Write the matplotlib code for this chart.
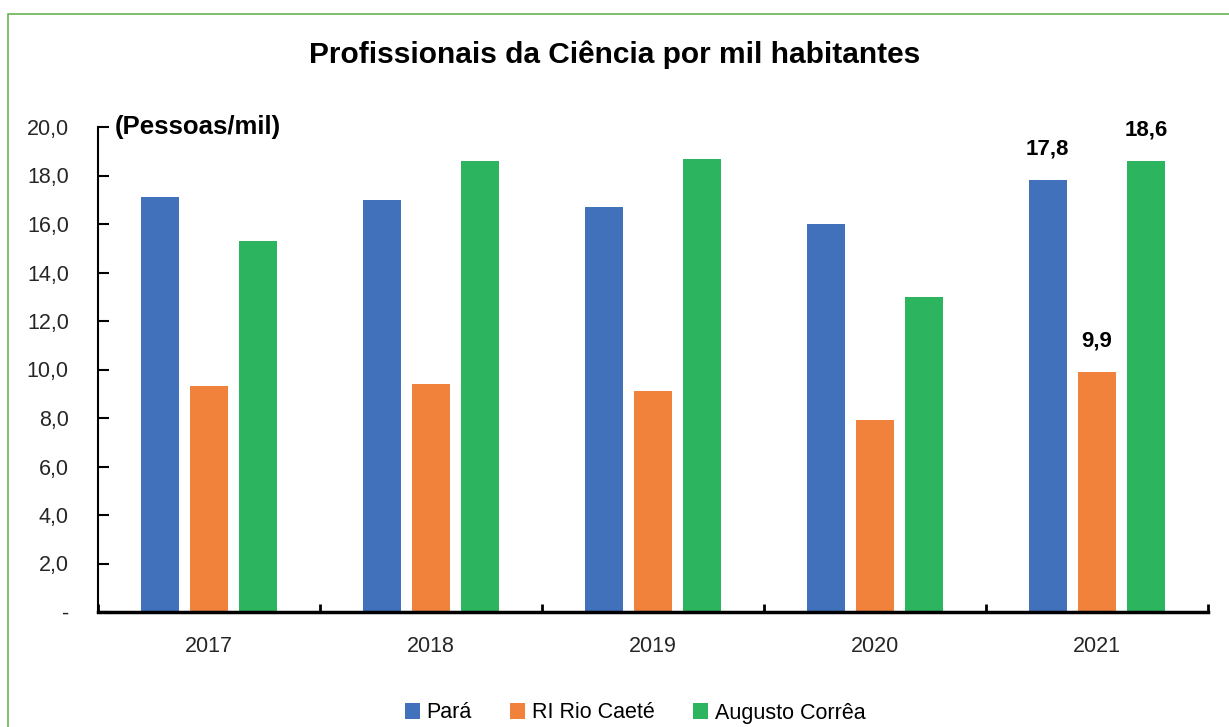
import numpy as np
import matplotlib.pyplot as plt
from matplotlib.patches import Rectangle

anos = ['2017', '2018', '2019', '2020', '2021']
para = [17.1, 17.0, 16.7, 16.0, 17.8]
rio_caete = [9.3, 9.4, 9.1, 7.9, 9.9]
augusto_correa = [15.3, 18.6, 18.7, 13.0, 18.6]

series = ['Pará', 'RI Rio Caeté', 'Augusto Corrêa']
cores = ['#4171BA', '#F0823C', '#2DB45E']

plt.rcParams['font.family'] = ['Liberation Sans Narrow', 'Liberation Sans', 'DejaVu Sans']

fig = plt.figure(figsize=(12.29, 7.27), dpi=100)
ax = fig.add_axes([98 / 1229, 1 - 612 / 727, 1110 / 1229, 485 / 727])

# moldura verde
fig.patches.append(Rectangle((8 / 1229, -0.1), 1.2, (727 - 14) / 727 + 0.1,
                             transform=fig.transFigure, fill=False,
                             edgecolor='#6BB352', linewidth=1.2))

x = np.arange(len(anos))
largura = 0.171
desloc = 0.222
for i, (vals, nome, cor) in enumerate(zip([para, rio_caete, augusto_correa], series, cores)):
    barras = ax.bar(x + (i - 1) * desloc, vals, largura, color=cor, label=nome, zorder=2)
    # rótulos só no último ano
    b = barras[-1]
    ax.text(b.get_x() + b.get_width() / 2, vals[-1] + 0.85, f'{vals[-1]:.1f}'.replace('.', ','),
            ha='center', va='bottom', fontsize=16, fontweight='bold')

ax.set_xlim(-0.5, len(anos) - 0.5)
ax.set_ylim(0, 20)
ax.set_yticks(np.arange(0, 21, 2))
ax.set_yticklabels(['-'] + [f'{v:.1f}'.replace('.', ',') for v in np.arange(2, 21, 2)])
ax.tick_params(axis='y', direction='in', length=8, width=1.5, labelsize=15.5, pad=21,
               labelcolor='#262626')

ax.set_xticks(np.arange(-0.5, len(anos), 1))
ax.set_xticklabels([])
ax.set_xticks(x, minor=True)
ax.set_xticklabels(anos, minor=True, fontsize=15.5, color='#262626')
ax.tick_params(axis='x', which='major', direction='in', length=6, width=2)
ax.tick_params(axis='x', which='minor', length=0, pad=17)

for s in ['top', 'right']:
    ax.spines[s].set_visible(False)
ax.spines['left'].set_linewidth(1.5)
ax.spines['bottom'].set_linewidth(2.5)

ax.text(0.015, 1.0, '(Pessoas/mil)', transform=ax.transAxes, fontsize=18.5,
        fontweight='bold', ha='left', va='center')

fig.text(0.5, 1 - 55 / 727, 'Profissionais da Ciência por mil habitantes',
         ha='center', va='center', fontsize=21.5, fontweight='bold')

fig.legend(loc='center', bbox_to_anchor=(635 / 1229, 1 - 713 / 727), ncol=3,
           frameon=False, fontsize=15.5, handlelength=0.7, handleheight=0.7,
           handletextpad=0.3, columnspacing=1.8)

fig.savefig('out.png', dpi=100)
